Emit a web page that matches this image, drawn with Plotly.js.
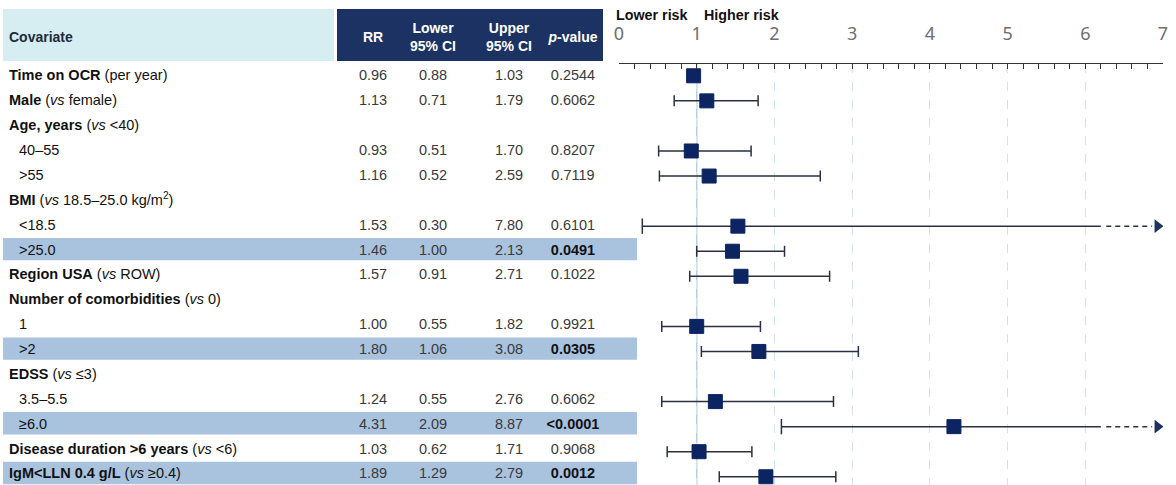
<!DOCTYPE html>
<html><head><meta charset="utf-8">
<script src="https://cdn.plot.ly/plotly-3.0.1.min.js"></script>
<style>html,body{margin:0;padding:0;background:#fff;} #chart{width:1176px;height:485px;}</style>
</head><body><div id="chart"></div>
<script>
// ---------------- DATA ----------------
const covariates = [
  "<b>Time on OCR</b> (per year)",
  "<b>Male</b> (<i>vs</i> female)",
  "<b>Age, years</b> (<i>vs</i> &lt;40)",
  "40–55",
  "&gt;55",
  "<b>BMI</b> (<i>vs</i> 18.5–25.0 kg/m<sup>2</sup>)",
  "&lt;18.5",
  "&gt;25.0",
  "<b>Region USA</b> (<i>vs</i> ROW)",
  "<b>Number of comorbidities</b> (<i>vs</i> 0)",
  "1",
  "&gt;2",
  "<b>EDSS</b> (<i>vs</i> ≤3)",
  "3.5–5.5",
  "≥6.0",
  "<b>Disease duration &gt;6 years</b> (<i>vs</i> &lt;6)",
  "<b>IgM&lt;LLN 0.4 g/L</b> (<i>vs</i> ≥0.4)"
];
const isSubgroup = [false,false,false,true,true,false,true,true,false,false,true,true,false,true,true,false,false];
const rr      = [0.96,1.13,null,0.93,1.16,null,1.53,1.46,1.57,null,1.00,1.80,null,1.24,4.31,1.03,1.89];
const lowerCI = [0.88,0.71,null,0.51,0.52,null,0.30,1.00,0.91,null,0.55,1.06,null,0.55,2.09,0.62,1.29];
const upperCI = [1.03,1.79,null,1.70,2.59,null,7.80,2.13,2.71,null,1.82,3.08,null,2.76,8.87,1.71,2.79];
const pValues = ["0.2544","0.6062",null,"0.8207","0.7119",null,"0.6101","0.0491","0.1022",null,"0.9921","0.0305",null,"0.6062","<0.0001","0.9068","0.0012"];
const headerLabels = ["Covariate","RR","Lower<br>95% CI","Upper<br>95% CI","<i>p</i>-value"];
const tickValues = [0,1,2,3,4,5,6,7];
const riskLabels = ["Lower risk","Higher risk"];

// ---------------- GEOMETRY / STYLE ----------------
const W = 1176, H = 485;
const ROW0_T = 75, ROWH_T = 24.875;   // table rows (px)
const ROW0_F = 75.8, ROWH_F = 25.06;  // forest rows (px)
const TEXT_DY = 1.8 / ROWH_T;         // text baseline compensation
const AXIS_PX = 64;
const X0_PX = 619, X7_PX = 1163;
const AXIS_MAX = 7, CUT = 6.2, DASH_START = 6.27, DASH_END = 6.86, ARROW_X = 6.93;
const HEADER_ROW = (37 - ROW0_T) / ROWH_T;
const colX = [9, 373, 433, 509, 573];
const NAVY = "#0c2461", LINE = "#2a3142";
const tableFont = "'Liberation Sans Narrow', 'Arial Narrow', 'Liberation Sans', Arial, sans-serif";

const rows = covariates.map((_, i) => i);
const sig = pValues.map(p => p !== null && parseFloat(p.replace("<", "")) < 0.05);
const fmt = v => v === null ? "" : v.toFixed(2);
const hasData = rr.map(v => v !== null);
const dataRows = rows.filter(i => hasData[i]);
const trunc = dataRows.filter(i => upperCI[i] > AXIS_MAX);
const normal = dataRows.filter(i => upperCI[i] <= AXIS_MAX);

const traces = [];
// table: covariate labels
traces.push({
  type: "scatter", mode: "text", xaxis: "x2", yaxis: "y2",
  x: rows.map(i => isSubgroup[i] ? colX[0] + 10 : colX[0]), y: rows.map(i => i + TEXT_DY),
  text: covariates, textposition: "middle right",
  textfont: {family: tableFont, size: 14.5, color: "#111"}, hoverinfo: "skip", cliponaxis: false
});
// table: numeric columns
[[rr, 1], [lowerCI, 2], [upperCI, 3]].forEach(([arr, c]) => {
  traces.push({
    type: "scatter", mode: "text", xaxis: "x2", yaxis: "y2",
    x: dataRows.map(() => colX[c]), y: dataRows.map(i => i + TEXT_DY), text: dataRows.map(i => fmt(arr[i])),
    textposition: "middle center",
    textfont: {family: tableFont, size: 14.5, color: "#3a3a3a"}, hoverinfo: "skip", cliponaxis: false
  });
});
traces.push({
  type: "scatter", mode: "text", xaxis: "x2", yaxis: "y2",
  x: dataRows.map(() => colX[4]), y: dataRows.map(i => i + TEXT_DY),
  text: dataRows.map(i => sig[i] ? "<b>" + pValues[i].replace("<", "&lt;") + "</b>" : pValues[i]),
  textposition: "middle center",
  textfont: {family: tableFont, size: 14.5, color: dataRows.map(i => sig[i] ? "#111" : "#3a3a3a")},
  hoverinfo: "skip", cliponaxis: false
});
// table header
traces.push({
  type: "scatter", mode: "text", xaxis: "x2", yaxis: "y2",
  x: colX, y: colX.map(() => HEADER_ROW + TEXT_DY),
  text: headerLabels.map(t => "<b>" + t + "</b>"),
  textposition: headerLabels.map((_, k) => k === 0 ? "middle right" : "middle center"),
  textfont: {family: tableFont, size: 14, color: headerLabels.map((_, k) => k === 0 ? "#1d2b3a" : "#ffffff")},
  hoverinfo: "skip", cliponaxis: false
});

// forest: truncated CI
const solidX = [], solidY = [], dashX = [], dashY = [];
trunc.forEach(i => { solidX.push(lowerCI[i], CUT, null); solidY.push(i, i, null);
                     dashX.push(DASH_START, DASH_END, null); dashY.push(i, i, null); });
traces.push({type: "scatter", mode: "lines", x: solidX, y: solidY, line: {color: LINE, width: 1.5}, hoverinfo: "skip"});
traces.push({type: "scatter", mode: "lines", x: dashX, y: dashY, line: {color: LINE, width: 1.5, dash: "5px,4px"}, hoverinfo: "skip"});
traces.push({type: "scatter", mode: "markers", x: trunc.map(i => lowerCI[i]), y: trunc,
  marker: {symbol: "line-ns", size: 11, line: {color: LINE, width: 1.5}}, hoverinfo: "skip"});
traces.push({type: "scatter", mode: "markers", x: trunc.map(() => ARROW_X), y: trunc,
  marker: {symbol: "triangle-right", size: 12, color: "#1c3263"}, hoverinfo: "skip"});
// forest: normal CI + markers
traces.push({
  type: "scatter", mode: "markers", x: normal.map(i => rr[i]), y: normal,
  error_x: {type: "data", symmetric: false, array: normal.map(i => upperCI[i] - rr[i]),
            arrayminus: normal.map(i => rr[i] - lowerCI[i]), color: LINE, thickness: 1.5, width: 5.5},
  marker: {symbol: "square", size: 14, color: NAVY, line: {color: NAVY, width: 1}}, hoverinfo: "skip"
});
traces.push({
  type: "scatter", mode: "markers", x: trunc.map(i => rr[i]), y: trunc,
  marker: {symbol: "square", size: 14, color: NAVY, line: {color: NAVY, width: 1}}, hoverinfo: "skip"
});

// ---------------- LAYOUT ----------------
const py = px => 1 - px / H;
const px2 = px => px / W;

const shapes = [];
shapes.push({type: "rect", xref: "paper", yref: "paper", x0: px2(3), x1: px2(334), y0: py(61), y1: py(9),
  fillcolor: "#d6edf1", line: {width: 0}, layer: "below"});
shapes.push({type: "rect", xref: "paper", yref: "paper", x0: px2(337), x1: px2(603), y0: py(61), y1: py(9),
  fillcolor: "#1c3263", line: {width: 0}, layer: "below"});
rows.filter(i => sig[i]).forEach(i => shapes.push({
  type: "rect", xref: "paper", yref: "y2", x0: px2(3), x1: px2(637), y0: i - 0.45, y1: i + 0.45,
  fillcolor: "#a9c2de", line: {width: 0}, layer: "below"}));
shapes.push({type: "line", xref: "x", yref: "paper", x0: 1, x1: 1, y0: 0, y1: py(AXIS_PX),
  line: {color: "#b9cde0", width: 1.5}, layer: "below"});

const layout = {
  width: W, height: H, margin: {l: 0, r: 0, t: 0, b: 0},
  paper_bgcolor: "#fff", plot_bgcolor: "rgba(0,0,0,0)", showlegend: false,
  xaxis: {
    domain: [px2(X0_PX), px2(X7_PX)], range: [0, AXIS_MAX], anchor: "y", side: "top",
    tickvals: tickValues, ticktext: tickValues.map(String),
    ticks: "inside", ticklen: 5, tickcolor: "#333", tickwidth: 1,
    showline: true, linecolor: "#333", linewidth: 1.5,
    showgrid: true, gridcolor: "#d3e2ef", gridwidth: 1, griddash: "dash",
    zeroline: false, ticklabelstandoff: 15,
    tickfont: {family: "'Noto Sans', 'Open Sans', sans-serif", size: 18, color: "#6e6e6e"},
    minor: {dtick: 0.2, tick0: 0, ticks: "inside", ticklen: 5, tickcolor: "#333", tickwidth: 1, showgrid: false},
    fixedrange: true
  },
  yaxis: {domain: [0, py(AXIS_PX)], range: [(H - ROW0_F) / ROWH_F, -(ROW0_F - AXIS_PX) / ROWH_F], visible: false, fixedrange: true},
  xaxis2: {domain: [0, 1], range: [0, W], anchor: "y2", visible: false, fixedrange: true},
  yaxis2: {domain: [0, 1], range: [(H - ROW0_T) / ROWH_T, -ROW0_T / ROWH_T], anchor: "x2", visible: false, fixedrange: true},
  shapes: shapes,
  annotations: [
    {xref: "x", yref: "paper", x: 1, y: py(14.5), yanchor: "middle", text: riskLabels[0], showarrow: false, xanchor: "right", xshift: -7,
     font: {family: "'Liberation Sans', Arial, sans-serif", size: 14.3, color: "#111", weight: 700}},
    {xref: "x", yref: "paper", x: 1, y: py(14.5), yanchor: "middle", text: riskLabels[1], showarrow: false, xanchor: "left", xshift: 5,
     font: {family: "'Liberation Sans', Arial, sans-serif", size: 14.3, color: "#111", weight: 700}}
  ]
};
Plotly.newPlot("chart", traces, layout, {staticPlot: true, displayModeBar: false});
</script></body></html>
